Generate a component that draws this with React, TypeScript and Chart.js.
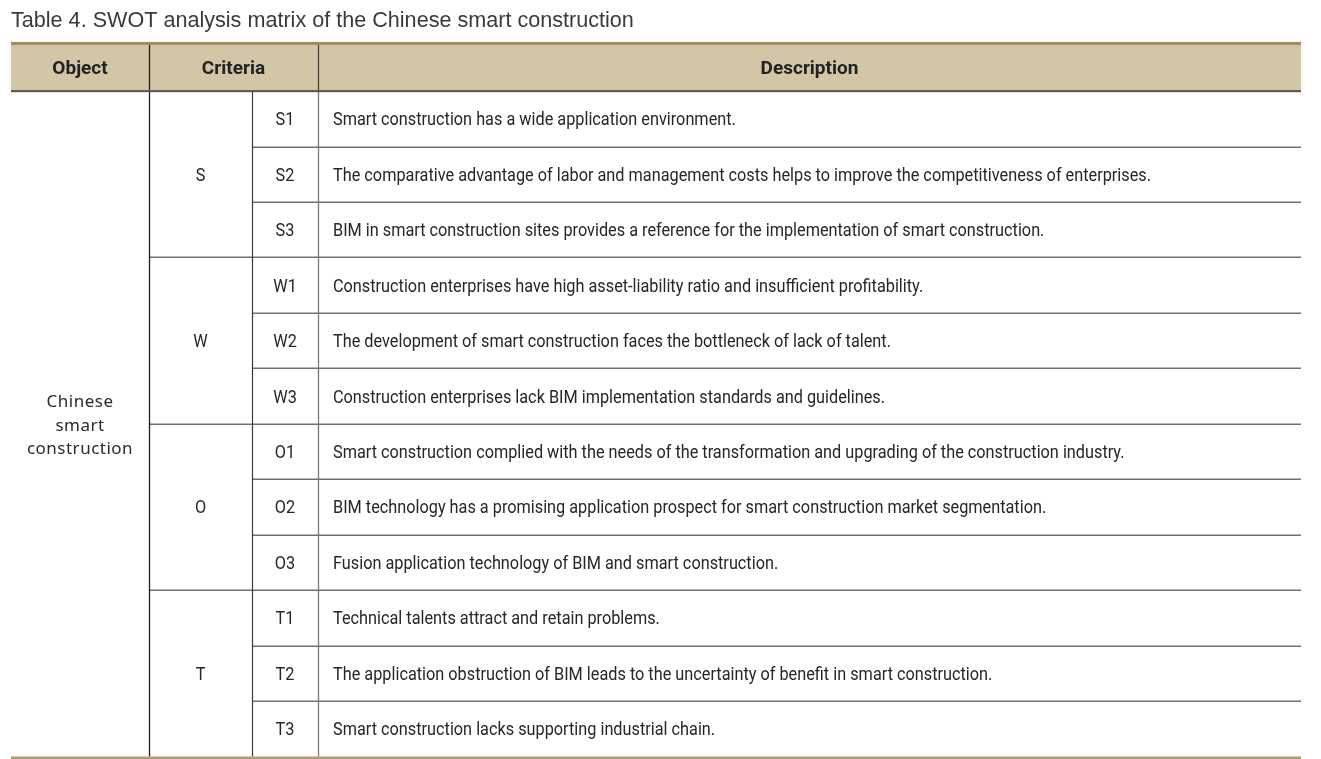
import { useEffect, useRef } from "react";
import { Chart, registerables } from "chart.js";
Chart.register(...registerables);

// ---- data ----
const tableTitle = "Table 4. SWOT analysis matrix of the Chinese smart construction";
const headerLabels = ["Object", "Criteria", "Description"];
const objectLines = ["Chinese", "smart", "construction"];
const groupLabels = ["S", "W", "O", "T"];
const codeLabels = ["S1", "S2", "S3", "W1", "W2", "W3", "O1", "O2", "O3", "T1", "T2", "T3"];
const descriptions = [
  "Smart construction has a wide application environment.",
  "The comparative advantage of labor and management costs helps to improve the competitiveness of enterprises.",
  "BIM in smart construction sites provides a reference for the implementation of smart construction.",
  "Construction enterprises have high asset-liability ratio and insufficient profitability.",
  "The development of smart construction faces the bottleneck of lack of talent.",
  "Construction enterprises lack BIM implementation standards and guidelines.",
  "Smart construction complied with the needs of the transformation and upgrading of the construction industry.",
  "BIM technology has a promising application prospect for smart construction market segmentation.",
  "Fusion application technology of BIM and smart construction.",
  "Technical talents attract and retain problems.",
  "The application obstruction of BIM leads to the uncertainty of benefit in smart construction.",
  "Smart construction lacks supporting industrial chain.",
];

// ---- layout (x units along the table, y units in rows) ----
const COLS = [0, 138, 241, 307, 1290];
const HEADER_ROWS = 0.87;
const ROWS_PER_GROUP = 3;

function txt(
  ctx: CanvasRenderingContext2D,
  s: string,
  x: number,
  y: number,
  font: string,
  align: CanvasTextAlign,
  color: string,
  sx = 1,
  spacing = "0px"
) {
  ctx.save();
  ctx.font = font;
  ctx.fillStyle = color;
  ctx.textAlign = align;
  ctx.textBaseline = "alphabetic";
  (ctx as any).letterSpacing = spacing;
  ctx.translate(x, y);
  ctx.scale(sx, 1);
  ctx.fillText(s, 0, 0);
  ctx.restore();
}

const tablePlugin = {
  id: "swotTable",
  afterDraw(chart: any) {
    const ctx: CanvasRenderingContext2D = chart.ctx;
    const xs = chart.scales.x;
    const ys = chart.scales.y;
    const X = (v: number) => xs.getPixelForValue(v);
    const Y = (v: number) => ys.getPixelForValue(v);
    const nRows = codeLabels.length;
    const left = X(COLS[0]);
    const right = X(COLS[4]);
    const top = Y(-HEADER_ROWS);
    const hb = Y(0);
    const bottom = Y(nRows);

    ctx.save();
    // header band
    ctx.fillStyle = "#d3c6a7";
    ctx.fillRect(left, top, right - left, hb - top);

    // row lines
    ctx.lineWidth = 1.5;
    ctx.strokeStyle = "#707070";
    for (let i = 1; i < nRows; i++) {
      const y = Math.round(Y(i)) + 0.25;
      const x0 = i % ROWS_PER_GROUP === 0 ? X(COLS[1]) : X(COLS[2]);
      ctx.beginPath();
      ctx.moveTo(x0, y);
      ctx.lineTo(right, y);
      ctx.stroke();
    }

    // vertical lines
    const vline = (xv: number, y0: number, y1: number, color: string, w: number) => {
      ctx.strokeStyle = color;
      ctx.lineWidth = w;
      ctx.beginPath();
      ctx.moveTo(Math.round(X(xv)) + 0.5, y0);
      ctx.lineTo(Math.round(X(xv)) + 0.5, y1);
      ctx.stroke();
    };
    vline(COLS[1], top, bottom, "#1e1e1e", 1.3);
    vline(COLS[2], hb, bottom, "#3a3a3a", 1.2);
    vline(COLS[3], top, hb, "#4a4438", 1.3);
    vline(COLS[3], hb, bottom, "#7a7a7a", 1.3);

    // top gold rule
    ctx.fillStyle = "#a38e57";
    ctx.fillRect(left, top - 1, right - left, 3);
    // header bottom rule
    ctx.fillStyle = "#595245";
    ctx.fillRect(left, hb - 1, right - left, 2);
    // bottom gold rule
    ctx.fillStyle = "#b09c6a";
    ctx.fillRect(left, bottom, right - left, 3);

    // header text
    const hy = (top + hb) / 2 + 7;
    const hFont = 'bold 19px "Roboto"';
    txt(ctx, headerLabels[0], (X(COLS[0]) + X(COLS[1])) / 2, hy, hFont, "center", "#222222");
    txt(ctx, headerLabels[1], (X(COLS[1]) + X(COLS[3])) / 2, hy, hFont, "center", "#222222");
    txt(ctx, headerLabels[2], (X(COLS[3]) + X(COLS[4])) / 2, hy, hFont, "center", "#222222");

    // object label
    const oc = (Y(0) + Y(nRows)) / 2 + 6.7;
    objectLines.forEach((s, i) => {
      txt(ctx, s, (X(COLS[0]) + X(COLS[1])) / 2, oc + (i - 1) * 23.4, '17px "Noto Sans"', "center", "#2a2a2a", 1, "0.5px");
    });

    const bodyFont = '18px "Roboto"';
    const sx = 0.904;
    // group labels
    groupLabels.forEach((g, gi) => {
      const yc = Y(gi * ROWS_PER_GROUP + ROWS_PER_GROUP / 2) + 6.5;
      txt(ctx, g, (X(COLS[1]) + X(COLS[2])) / 2, yc, bodyFont, "center", "#262626", sx);
    });
    // codes and descriptions
    codeLabels.forEach((c, i) => {
      const yc = Y(i + 0.5) + 6.5;
      txt(ctx, c, (X(COLS[2]) + X(COLS[3])) / 2, yc, bodyFont, "center", "#262626", sx);
      txt(ctx, descriptions[i], X(COLS[3]) + 15, yc, bodyFont, "left", "#262626", sx);
    });
    ctx.restore();
  },
};

export default function App() {
  const ref = useRef<HTMLCanvasElement>(null);
  useEffect(() => {
    document.body.style.margin = "0";
    document.body.style.overflow = "hidden";
    const chart = new Chart(ref.current!, {
      type: "scatter",
      data: {
        datasets: [
          {
            label: "rows",
            data: codeLabels.map((_, i) => ({ x: COLS[3], y: i + 0.5 })),
            pointRadius: 0,
            showLine: false,
          },
        ],
      },
      options: {
        responsive: false,
        animation: false,
        events: [],
        layout: { padding: { left: 11, right: 20, top: 0, bottom: 2.5 } },
        plugins: {
          legend: { display: false },
          tooltip: { enabled: false },
          title: {
            display: true,
            text: tableTitle,
            align: "start",
            color: "#3a3a3a",
            font: { family: '"Liberation Sans", Arial, sans-serif', size: 21.6, weight: "normal" },
            padding: { top: 8, bottom: 9 },
          },
        },
        scales: {
          x: { type: "linear", min: COLS[0], max: COLS[4], display: false },
          y: { type: "linear", min: -HEADER_ROWS, max: codeLabels.length, reverse: true, display: false },
        },
      },
      plugins: [tablePlugin],
    });
    return () => chart.destroy();
  }, []);
  return (
    <div style={{ width: 1321, height: 759 }}>
      <canvas ref={ref} width={1321} height={759} style={{ display: "block" }} />
    </div>
  );
}
